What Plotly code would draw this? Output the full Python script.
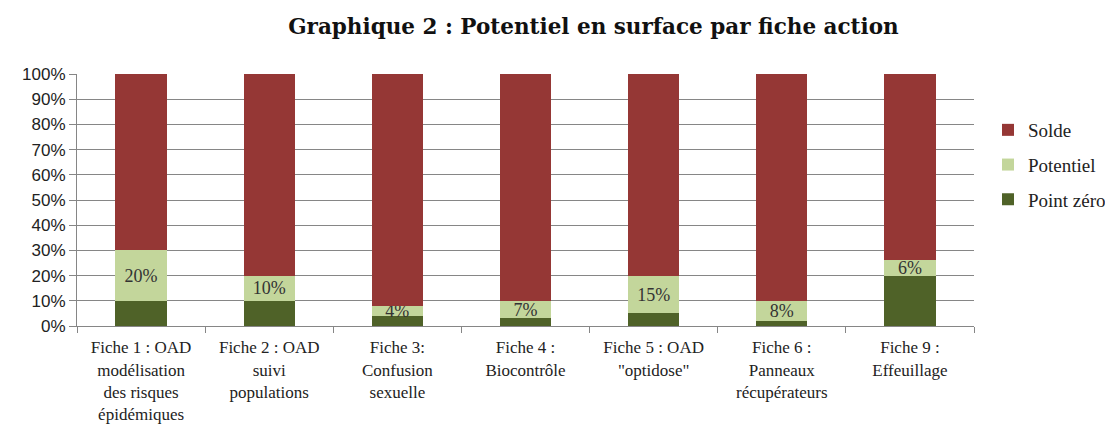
import plotly.graph_objects as go

# data (percent of surface)
fiches = [
    "Fiche 1 : OAD<br>modélisation<br>des risques<br>épidémiques",
    "Fiche 2 : OAD<br>suivi<br>populations",
    "Fiche 3:<br>Confusion<br>sexuelle",
    "Fiche 4 :<br>Biocontrôle",
    "Fiche 5 : OAD<br>\"optidose\"",
    "Fiche 6 :<br>Panneaux<br>récupérateurs",
    "Fiche 9 :<br>Effeuillage",
]
point_zero = [10, 10, 4, 3, 5, 2, 20]
potentiel = [20, 10, 4, 7, 15, 8, 6]
solde = [70, 80, 92, 90, 80, 90, 74]

SERIF = "Liberation Serif"
SANS = "Liberation Sans"

fig = go.Figure()
fig.add_bar(x=fiches, y=point_zero, name="Point zéro", marker_color="#4f6228",
            legendgroup="pz", legendrank=3)
fig.add_bar(x=fiches, y=potentiel, name="Potentiel", marker_color="#c3d69b",
            legendgroup="pot", legendrank=2,
            text=[f"{v}%" for v in potentiel], textposition="inside",
            insidetextanchor="middle",
            textfont=dict(family=SERIF, size=18, color="#333333"))
fig.add_bar(x=fiches, y=solde, name="Solde", marker_color="#953735",
            legendgroup="sol", legendrank=1)

fig.update_traces(width=0.4, marker_line_width=0)

# the page body adds 8px around the figure, margins account for it
fig.update_layout(
    width=1113, height=426,
    barmode="stack",
    paper_bgcolor="white", plot_bgcolor="white",
    margin=dict(l=69, r=147, t=66, b=108),
    title=dict(text="<b>Graphique 2 : Potentiel en surface par fiche action</b>",
               x=0.526, xanchor="center", y=0.956, yanchor="middle",
               font=dict(family="DejaVu Serif", size=21.5, color="#111111")),
    uniformtext=dict(minsize=18, mode="show"),
    legend=dict(x=980 / 1113, xref="container", xanchor="left",
                y=1 - 103 / 426, yref="container", yanchor="top",
                traceorder="grouped", tracegroupgap=7,
                font=dict(family=SERIF, size=19, color="#222222")),
    xaxis=dict(showline=True, linecolor="#868686", linewidth=1,
               ticks="outside", tickson="boundaries", ticklen=6,
               tickcolor="#868686", automargin=False, ticklabelstandoff=6,
               tickfont=dict(family=SERIF, size=17, color="#222222")),
    yaxis=dict(range=[0, 100], dtick=10, ticksuffix="%",
               showline=True, linecolor="#868686", linewidth=1,
               ticks="outside", ticklen=7, tickcolor="#868686",
               showgrid=True, gridcolor="#868686", gridwidth=1,
               zeroline=False, automargin=False,
               tickfont=dict(family=SANS, size=17, color="#222222")),
)

fig.write_html("out.html")
